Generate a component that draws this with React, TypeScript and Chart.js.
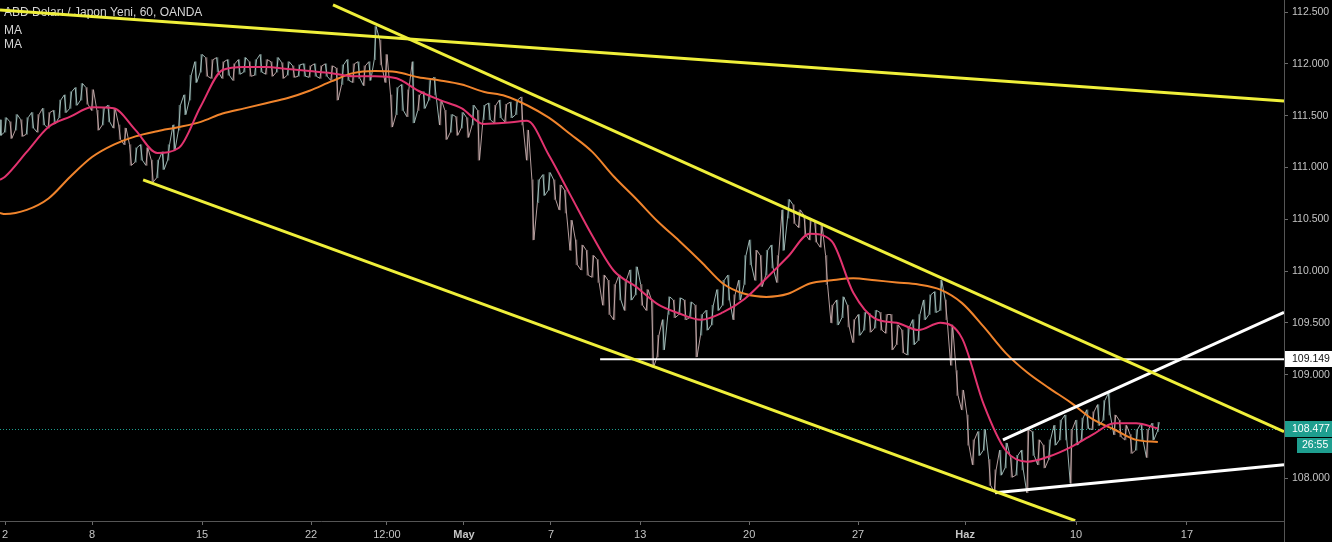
import React, { useEffect, useRef } from "react";
import { Chart, registerables } from "chart.js";

Chart.register(...registerables);

// ---------- text ----------
const TITLE = "ABD Doları / Japon Yeni, 60, OANDA";
const INDICATOR_NAMES = ["MA", "MA"];

// ---------- axes ----------
const X_MIN = 0.77;
const X_MAX = 59.8;
const Y_MIN = 107.587;
const Y_MAX = 112.616;
const TIME_TICK_POS = [1.0, 5.0, 10.06, 15.07, 18.56, 22.1, 26.1, 30.2, 35.21, 40.22, 45.14, 50.24, 55.34];
const TIME_TICK_LABELS = ["2", "8", "15", "22", "12:00", "May", "7", "13", "20", "27", "Haz", "10", "17"];
const MONTH_LABELS = ["May", "Haz"];
const PRICE_TICKS = [108, 109, 109.5, 110, 110.5, 111, 111.5, 112, 112.5];

// ---------- price ranges (per 6h slot) ----------
const BAR_START = 0.77;
const BAR_STEP = 0.25;
const HIGHS = [
  111.46, 111.48, 111.44, 111.51, 111.46, 111.48, 111.53, 111.51, 111.57, 111.53,
  111.55, 111.65, 111.70, 111.73, 111.77, 111.81, 111.77, 111.75, 111.55, 111.57,
  111.60, 111.57, 111.41, 111.38, 111.22, 111.19, 111.22, 111.19, 111.07, 111.07,
  111.15, 111.22, 111.41, 111.60, 111.70, 111.89, 112.02, 112.09, 112.06, 112.04,
  112.06, 112.02, 112.04, 112.00, 112.04, 112.06, 112.02, 112.04, 112.09, 112.04,
  112.02, 112.06, 112.01, 112.02, 111.98, 111.99, 112.00, 111.98, 112.00, 111.98,
  112.00, 111.98, 111.96, 111.99, 112.04, 112.00, 112.02, 111.98, 112.02, 112.36,
  112.23, 112.09, 111.70, 111.77, 111.80, 111.75, 112.02, 111.70, 111.73, 111.84,
  111.87, 111.65, 111.55, 111.51, 111.49, 111.53, 111.48, 111.60, 111.55, 111.60,
  111.62, 111.60, 111.65, 111.61, 111.63, 111.65, 111.68, 111.36, 110.88, 110.88,
  110.93, 110.95, 110.88, 110.83, 110.78, 110.49, 110.30, 110.25, 110.20, 110.15,
  110.11, 109.96, 109.91, 109.87, 109.96, 109.91, 110.01, 110.04, 109.87, 109.82,
  109.72, 109.38, 109.53, 109.75, 109.72, 109.74, 109.72, 109.70, 109.67, 109.58,
  109.62, 109.67, 109.82, 109.91, 109.96, 109.77, 109.91, 110.15, 110.30, 110.20,
  110.15, 110.20, 110.25, 110.15, 110.59, 110.69, 110.64, 110.59, 110.54, 110.51,
  110.47, 110.44, 110.15, 109.67, 109.72, 109.75, 109.67, 109.53, 109.58, 109.60,
  109.59, 109.62, 109.60, 109.58, 109.58, 109.48, 109.43, 109.45, 109.53, 109.58,
  109.72, 109.77, 109.80, 109.91, 109.72, 109.48, 109.04, 108.85, 108.61, 108.37,
  108.45, 108.47, 108.18, 108.08, 108.27, 108.34, 108.20, 108.22, 108.27, 108.47,
  108.45, 108.37, 108.32, 108.37, 108.51, 108.56, 108.61, 108.47, 108.56, 108.58,
  108.66, 108.64, 108.71, 108.75, 108.82, 108.61, 108.56, 108.51, 108.42, 108.47,
  108.53, 108.47, 108.53, 108.54,
];
const LOWS = [
  111.31, 111.34, 111.28, 111.36, 111.30, 111.32, 111.38, 111.34, 111.41, 111.38,
  111.42, 111.48, 111.53, 111.57, 111.60, 111.65, 111.61, 111.55, 111.36, 111.41,
  111.44, 111.38, 111.27, 111.22, 111.02, 111.05, 111.07, 111.02, 110.86, 110.90,
  110.98, 111.07, 111.17, 111.36, 111.51, 111.65, 111.82, 111.92, 111.88, 111.86,
  111.92, 111.86, 111.89, 111.84, 111.90, 111.92, 111.88, 111.89, 111.92, 111.90,
  111.88, 111.92, 111.86, 111.89, 111.87, 111.88, 111.88, 111.87, 111.88, 111.86,
  111.88, 111.84, 111.65, 111.80, 111.84, 111.82, 111.86, 111.79, 111.84, 112.04,
  111.99, 111.82, 111.39, 111.51, 111.55, 111.49, 111.43, 111.55, 111.57, 111.65,
  111.70, 111.41, 111.27, 111.34, 111.31, 111.38, 111.29, 111.41, 111.07, 111.46,
  111.46, 111.43, 111.48, 111.44, 111.48, 111.51, 111.41, 111.07, 110.30, 110.66,
  110.73, 110.78, 110.69, 110.59, 110.56, 110.20, 110.06, 110.01, 109.96, 109.94,
  109.89, 109.67, 109.58, 109.53, 109.72, 109.62, 109.72, 109.77, 109.67, 109.62,
  109.07, 109.17, 109.24, 109.58, 109.55, 109.58, 109.53, 109.55, 109.17, 109.38,
  109.43, 109.48, 109.62, 109.67, 109.72, 109.53, 109.72, 109.87, 110.06, 109.91,
  109.85, 109.96, 110.03, 109.89, 110.20, 110.51, 110.46, 110.42, 110.35, 110.30,
  110.28, 110.23, 109.87, 109.50, 109.48, 109.55, 109.46, 109.31, 109.38, 109.43,
  109.41, 109.45, 109.43, 109.40, 109.24, 109.29, 109.21, 109.19, 109.29, 109.33,
  109.53, 109.58, 109.60, 109.62, 109.53, 109.09, 108.80, 108.66, 108.32, 108.13,
  108.22, 108.27, 107.93, 107.87, 108.03, 108.10, 108.01, 108.03, 108.08, 107.86,
  108.22, 108.13, 108.10, 108.18, 108.32, 108.37, 108.37, 107.95, 108.32, 108.37,
  108.48, 108.47, 108.51, 108.56, 108.61, 108.42, 108.40, 108.37, 108.24, 108.27,
  108.37, 108.20, 108.37, 108.45,
];

// ---------- moving averages ----------
const MA_DAYS = [
  0.77, 1, 2, 3, 4, 5, 6, 7, 8, 9, 10, 11, 12, 13, 14, 15, 16, 17, 18, 19, 20,
  21, 22, 23, 24, 25, 26, 27, 28, 29, 30, 31, 32, 33, 34, 35, 36, 37, 38, 39, 40,
  41, 42, 43, 44, 45, 46, 47, 48, 49, 50, 51, 52, 53, 54,
];
const MA_FAST = [
  110.88, 110.91, 111.15, 111.39, 111.49, 111.58, 111.57, 111.36, 111.14, 111.19, 111.59,
  111.94, 111.97, 111.97, 111.95, 111.93, 111.91, 111.88, 111.88, 111.86, 111.74,
  111.65, 111.57, 111.42, 111.43, 111.45, 111.12, 110.73, 110.34, 110.0, 109.85,
  109.68, 109.59, 109.53, 109.6, 109.73, 109.93, 110.14, 110.36, 110.29, 109.79,
  109.54, 109.5, 109.43, 109.5, 109.35, 108.71, 108.27, 108.16, 108.21, 108.3,
  108.42, 108.53, 108.53, 108.48,
];
const MA_SLOW = [
  110.56, 110.55, 110.59, 110.7, 110.91, 111.1, 111.22, 111.3, 111.35, 111.39, 111.44,
  111.52, 111.57, 111.62, 111.67, 111.74, 111.83, 111.91, 111.93, 111.92, 111.87,
  111.84, 111.8, 111.73, 111.69, 111.6, 111.48, 111.32, 111.15, 110.91, 110.7,
  110.48, 110.29, 110.09, 109.88, 109.78, 109.75, 109.78, 109.88, 109.91, 109.93,
  109.91, 109.89, 109.87, 109.82, 109.69, 109.46, 109.21, 109.02, 108.87, 108.73,
  108.57, 108.47, 108.37, 108.35,
];

// ---------- drawn lines: [x1, price1, x2, price2] ----------
const YELLOW_LINES = [
  [0.77, 112.52, 59.8, 111.64],
  [16.08, 112.57, 59.8, 108.45],
  [7.35, 110.88, 50.2, 107.59],
];
const WHITE_LINES = [
  [28.36, 109.149, 59.8, 109.149],
  [46.88, 108.37, 59.8, 109.6],
  [46.52, 107.86, 59.8, 108.13],
];

// ---------- price labels ----------
const LEVEL_PRICE = 109.149;
const CURRENT_PRICE = 108.477;
const COUNTDOWN = "26:55";

const FONT = "'Liberation Sans', Arial, sans-serif";
const TEAL = "#1e9e8f";

export default function App() {
  const ref = useRef<HTMLCanvasElement>(null);

  useEffect(() => {
    const canvas = ref.current!;
    const mids = HIGHS.map((h, k) => (h + LOWS[k]) / 2);
    const upDown = mids.map((m, k) => k === 0 || m >= mids[k - 1]);
    const half = BAR_STEP * 0.18;
    // each slot is drawn as a vertical stroke over its range, strokes joined into one path
    const pathData: { x: number; y: number }[] = [];
    HIGHS.forEach((h, k) => {
      const x = BAR_START + k * BAR_STEP;
      const first = k % 2 === 0 ? h : LOWS[k];
      const second = k % 2 === 0 ? LOWS[k] : h;
      pathData.push({ x: x - half, y: first });
      pathData.push({ x: x + half, y: second });
    });
    const candleData = HIGHS.map((h, k) => ({ x: BAR_START + k * BAR_STEP, y: [LOWS[k], h] }));

    const lineDs = (seg: number[], color: string, width: number) => ({
      type: "line" as const,
      data: [
        { x: seg[0], y: seg[1] },
        { x: seg[2], y: seg[3] },
      ],
      borderColor: color,
      borderWidth: width,
      pointRadius: 0,
      order: 1,
      tension: 0,
    });

    const overlay = {
      id: "overlay",
      beforeDraw(chart: any) {
        const ctx = chart.ctx;
        ctx.save();
        ctx.fillStyle = "#000";
        ctx.fillRect(0, 0, chart.width, chart.height);
        ctx.restore();
      },
      beforeDatasetsDraw(chart: any) {
        const ctx = chart.ctx;
        const area = chart.chartArea;
        const ys = chart.scales.y;
        ctx.save();
        const yc = Math.round(ys.getPixelForValue(CURRENT_PRICE)) + 0.5;
        ctx.strokeStyle = TEAL;
        ctx.lineWidth = 1;
        ctx.setLineDash([1, 2]);
        ctx.beginPath();
        ctx.moveTo(area.left, yc);
        ctx.lineTo(area.right, yc);
        ctx.stroke();
        ctx.setLineDash([]);
        ctx.fillStyle = "#d4d4d4";
        ctx.font = `12px ${FONT}`;
        ctx.textBaseline = "middle";
        ctx.textAlign = "left";
        ctx.fillText(TITLE, 4, 13);
        INDICATOR_NAMES.forEach((n, i) => ctx.fillText(n, 4, 31 + i * 14));
        ctx.restore();
      },
      afterDraw(chart: any) {
        const ctx = chart.ctx;
        const area = chart.chartArea;
        const ys = chart.scales.y;
        ctx.save();
        ctx.strokeStyle = "#555";
        ctx.lineWidth = 1;
        ctx.beginPath();
        ctx.moveTo(area.right + 0.5, area.bottom);
        ctx.lineTo(area.right + 0.5, chart.height);
        ctx.stroke();

        ctx.font = `10.5px ${FONT}`;
        ctx.textBaseline = "middle";
        ctx.textAlign = "left";
        const yl = ys.getPixelForValue(LEVEL_PRICE);
        ctx.fillStyle = "#ffffff";
        ctx.fillRect(area.right + 1, Math.round(yl) - 8, chart.width - area.right - 1, 16);
        ctx.fillStyle = "#111";
        ctx.fillText(LEVEL_PRICE.toFixed(3), area.right + 8, yl);
        const yc = ys.getPixelForValue(CURRENT_PRICE);
        ctx.fillStyle = TEAL;
        ctx.fillRect(area.right + 1, Math.round(yc) - 8, chart.width - area.right - 1, 16);
        ctx.fillStyle = "#ffffff";
        ctx.fillText(CURRENT_PRICE.toFixed(3), area.right + 8, yc);
        ctx.fillStyle = TEAL;
        ctx.fillRect(area.right + 13, Math.round(yc) + 9, chart.width - area.right - 13, 15);
        ctx.fillStyle = "#ffffff";
        ctx.fillText(COUNTDOWN, area.right + 18, yc + 16.5);
        ctx.restore();
      },
    };

    const chart = new Chart(canvas, {
      type: "bar",
      data: {
        datasets: [
          {
            type: "bar",
            data: candleData as any,
            backgroundColor: upDown.map((u) => (u ? "rgba(150,190,186,0.5)" : "rgba(190,158,158,0.5)")),
            borderWidth: 0,
            barThickness: 1,
            order: 4,
          },
          {
            type: "line",
            data: pathData,
            borderWidth: 1,
            pointRadius: 0,
            tension: 0,
            borderColor: "rgba(185,185,185,0.9)",
            segment: {
              borderColor: (c: any) =>
                upDown[c.p0DataIndex >> 1] ? "rgba(170,196,193,0.9)" : "rgba(200,174,174,0.9)",
            },
            order: 3,
          },
          {
            type: "line",
            data: MA_DAYS.map((d, i) => ({ x: d, y: MA_FAST[i] })),
            borderColor: "#e2336f",
            borderWidth: 2,
            pointRadius: 0,
            cubicInterpolationMode: "monotone",
            order: 2,
          },
          {
            type: "line",
            data: MA_DAYS.map((d, i) => ({ x: d, y: MA_SLOW[i] })),
            borderColor: "#f0842c",
            borderWidth: 2,
            pointRadius: 0,
            cubicInterpolationMode: "monotone",
            order: 2,
          },
          ...YELLOW_LINES.map((s) => lineDs(s, "#efef3a", 3)),
          ...WHITE_LINES.map((s, i) => lineDs(s, "#ffffff", i === 0 ? 2 : 3)),
        ] as any,
      },
      options: {
        responsive: false,
        animation: false,
        devicePixelRatio: 1,
        events: [],
        layout: { padding: 0 },
        plugins: { legend: { display: false }, tooltip: { enabled: false }, title: { display: false } },
        scales: {
          x: {
            type: "linear",
            min: X_MIN,
            max: X_MAX,
            offset: false,
            grid: { display: true, offset: false, drawOnChartArea: false, drawTicks: true, tickLength: 4, color: "#6a6a6a" },
            border: { display: true, color: "#555" },
            afterBuildTicks: (scale: any) => {
              scale.ticks = TIME_TICK_POS.map((v) => ({ value: v }));
            },
            afterFit: (scale: any) => {
              scale.height = 21;
              scale.paddingLeft = 0;
              scale.paddingRight = 0;
            },
            ticks: {
              autoSkip: false,
              maxRotation: 0,
              minRotation: 0,
              padding: 3,
              color: "#c4c4c4",
              font: (ctx: any) => ({
                size: 11,
                family: FONT,
                weight: MONTH_LABELS.includes(TIME_TICK_LABELS[ctx.index]) ? "bold" : "normal",
              }),
              callback: (_v: any, i: number) => TIME_TICK_LABELS[i],
            },
          },
          y: {
            type: "linear",
            position: "right",
            min: Y_MIN,
            max: Y_MAX,
            beginAtZero: false,
            grid: { display: true, drawOnChartArea: false, drawTicks: true, tickLength: 4, color: "#6a6a6a" },
            border: { display: true, color: "#555" },
            afterBuildTicks: (scale: any) => {
              scale.ticks = PRICE_TICKS.map((v) => ({ value: v }));
            },
            afterFit: (scale: any) => {
              scale.width = 48;
              scale.paddingTop = 0;
              scale.paddingBottom = 0;
            },
            ticks: {
              autoSkip: false,
              padding: 4,
              color: "#c4c4c4",
              font: { size: 10.5, family: FONT },
              callback: (v: any) => Number(v).toFixed(3),
            },
          },
        },
      } as any,
      plugins: [overlay],
    });

    return () => chart.destroy();
  }, []);

  return (
    <div style={{ position: "fixed", left: 0, top: 0, width: 1332, height: 542, background: "#000" }}>
      <canvas ref={ref} width={1332} height={542} style={{ display: "block", width: 1332, height: 542 }} />
    </div>
  );
}
